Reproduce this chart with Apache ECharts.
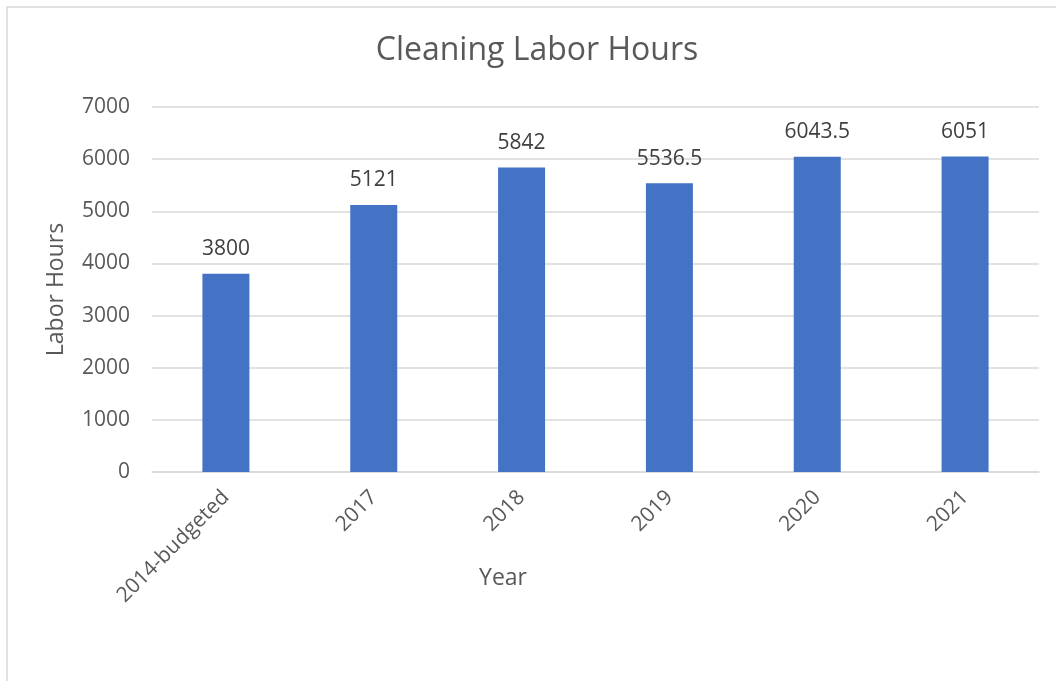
<!DOCTYPE html>
<html>
<head>
<meta charset="utf-8">
<script src="https://cdn.jsdelivr.net/npm/echarts@6/dist/echarts.min.js"></script>
<style>
  html, body { margin: 0; padding: 0; background: #fff; }
  #main { width: 1056px; height: 681px; }
</style>
</head>
<body>
<div id="main"></div>
<script>
// data
const categories = ['2014-budgeted', '2017', '2018', '2019', '2020', '2021'];
const laborHours = [3800, 5121, 5842, 5536.5, 6043.5, 6051];

const chart = echarts.init(document.getElementById('main'));
const font = '"Open Sans", Lato, sans-serif';

const option = {
    backgroundColor: '#ffffff',
    textStyle: { fontFamily: font },
    grid: { left: 152, right: 17, top: 107, bottom: 209 },
    xAxis: {
        type: 'category',
        data: categories,
        axisTick: { show: false },
        axisLine: { lineStyle: { color: '#d9d9d9', width: 1.5 } },
        axisLabel: { rotate: 45, margin: 22, fontSize: 21, color: '#595959', fontFamily: font }
    },
    yAxis: {
        type: 'value',
        min: 0,
        max: 7000,
        interval: 1000,
        name: 'Labor Hours',
        nameLocation: 'middle',
        nameGap: 84,
        nameTextStyle: { fontSize: 23, color: '#595959', fontFamily: font },
        axisLine: { show: false },
        axisTick: { show: false },
        axisLabel: {
            margin: 22, fontSize: 21, color: '#595959', fontFamily: font,
            formatter: function (v) { return String(v); }
        },
        splitLine: { lineStyle: { color: '#d9d9d9', width: 1.5 } }
    },
    series: [{
        type: 'bar',
        data: laborHours,
        barWidth: 47,
        itemStyle: { color: '#4472c4' },
        label: {
            show: true,
            position: 'top',
            distance: 14,
            fontSize: 21,
            color: '#404040',
            fontFamily: font,
            formatter: function (p) { return String(p.value); }
        }
    }],
    graphic: [
        {
            type: 'rect',
            shape: { x: 7, y: 7, width: 1070, height: 700 },
            style: { fill: 'none', stroke: '#d9d9d9', lineWidth: 1.5 },
            silent: true
        },
        {
            // chart title, a bit right of the page centre as in the picture
            type: 'text',
            x: 537,
            y: 51,
            style: {
                text: 'Cleaning Labor Hours',
                fontSize: 32,
                fontFamily: font,
                fill: '#595959',
                align: 'center',
                verticalAlign: 'middle'
            }
        },
        {
            type: 'text',
            x: 503,
            y: 578,
            style: {
                text: 'Year',
                fontSize: 23,
                fontFamily: font,
                fill: '#595959',
                align: 'center',
                verticalAlign: 'middle'
            }
        }
    ]
};

chart.setOption(option);
</script>
</body>
</html>
